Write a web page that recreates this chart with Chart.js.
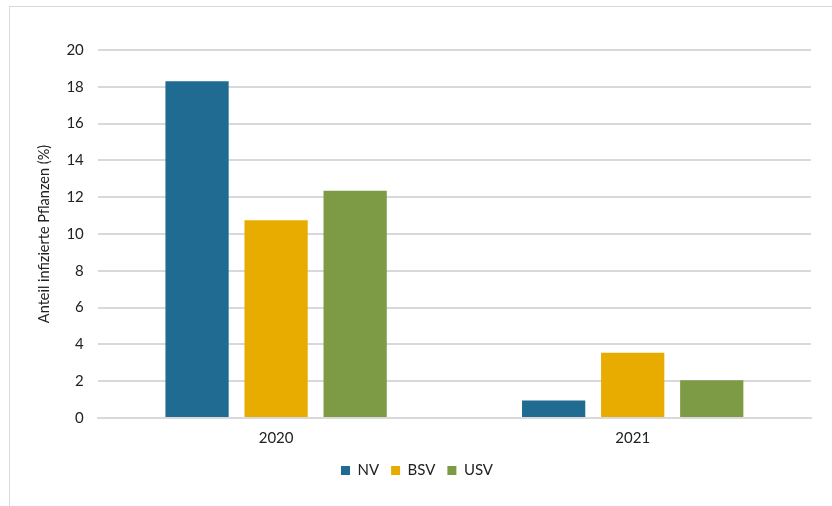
<!DOCTYPE html>
<html><head><meta charset="utf-8">
<script src="https://cdn.jsdelivr.net/npm/chart.js@4"></script>
<style>
html,body{margin:0;padding:0;background:#fff;}
#wrap{position:relative;width:832px;height:506px;overflow:hidden;}
#frame{position:absolute;left:9px;top:6px;width:840px;height:520px;border:1px solid #d9d9d9;box-sizing:border-box;}
canvas{position:absolute;left:0;top:0;}
</style></head>
<body>
<div id="wrap"><div id="frame"></div><canvas id="c" width="832" height="506"></canvas></div>
<script>
const categories = ['2020', '2021'];
const seriesNames = ['NV', 'BSV', 'USV'];
const nv = [18.3, 0.95];
const bsv = [10.75, 3.55];
const usv = [12.35, 2.05];
const yTicks = [0, 2, 4, 6, 8, 10, 12, 14, 16, 18, 20];
const colors = ['#1f6b91', '#e8ac00', '#7d9a44'];

const font = "'Lato', 'DejaVu Sans', sans-serif";
const values = [nv, bsv, usv];
new Chart(document.getElementById('c'), {
  type: 'bar',
  data: {
    labels: categories,
    datasets: seriesNames.map((n, i) => ({
      label: n, data: values[i], backgroundColor: colors[i],
      categoryPercentage: 0.665, barPercentage: 0.8
    }))
  },
  options: {
    responsive: false, animation: false,
    layout: { padding: { top: 50, right: 21, left: 23, bottom: 18 } },
    plugins: {
      tooltip: { enabled: false },
      legend: {
        position: 'bottom',
        labels: { boxWidth: 9, boxHeight: 9, color: '#222', font: { family: font, size: 15 }, padding: 12 }
      }
    },
    scales: {
      x: {
        grid: { display: false },
        border: { color: '#d9d9d9', width: 2 },
        ticks: { color: '#222', font: { family: font, size: 15 }, padding: 3.5 }
      },
      y: {
        min: 0, max: 20,
        afterBuildTicks: (s) => { s.ticks = yTicks.map(v => ({ value: v })); },
        grid: { color: '#d9d9d9', lineWidth: 2, drawTicks: true, tickLength: 14, tickColor: '#fff' },
        border: { display: false },
        ticks: { color: '#222', font: { family: font, size: 15 }, padding: 0 },
        title: { display: true, text: 'Anteil infizierte Pflanzen (%)', color: '#222', font: { family: font, size: 14.5 }, padding: 13 }
      }
    }
  }
});
</script>
</body></html>
